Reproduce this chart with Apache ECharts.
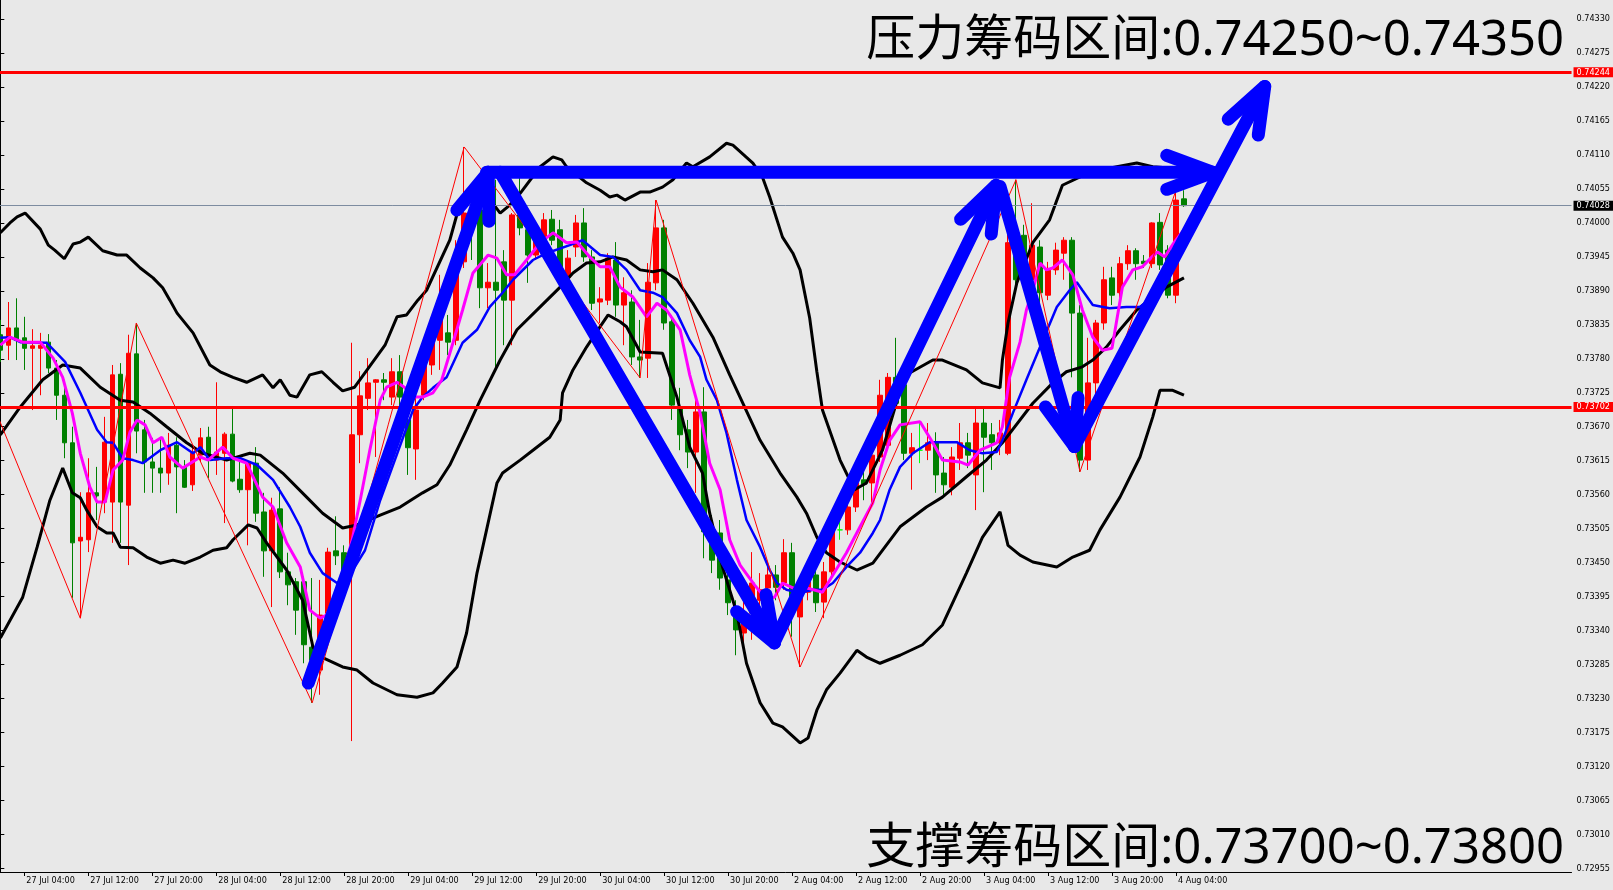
<!DOCTYPE html>
<html><head><meta charset="utf-8">
<script src="https://cdn.jsdelivr.net/npm/echarts@6/dist/echarts.min.js"></script>
<style>html,body{margin:0;padding:0;background:#e8e8e8;} #c{width:1613px;height:890px;}</style>
</head><body><div id="c"></div>
<script>
// ---- bar data (H1 bars, index 0 = 27 Jul 01:00, weekend skipped) ----
const opens = [
0.73819,0.73802,0.73830,0.73814,0.73797,0.73797,0.73807,0.73765,0.73721,0.73644,
0.73485,0.73487,0.73563,0.73548,0.73548,0.73755,0.73543,0.73788,0.73665,0.73613,
0.73603,0.73595,0.73640,0.73605,0.73576,0.73624,0.73653,0.73616,0.73627,0.73658,
0.73585,0.73568,0.73611,0.73532,0.73469,0.73537,0.73435,0.73419,0.73419,0.73313,
0.73276,0.73368,0.73469,0.73466,0.73466,0.73657,0.73716,0.73742,0.73746,0.73718,
0.73759,0.73681,0.73634,0.73721,0.73770,0.73810,0.73822,0.73810,0.73937,0.74016,
0.74021,0.73895,0.73904,0.73937,0.73875,0.74013,0.73989,0.73948,0.73961,0.74006,
0.73989,0.73912,0.73961,0.74000,0.73945,0.73872,0.73875,0.73940,0.73867,0.73872,
0.73783,0.73781,0.73903,0.73992,0.73840,0.73702,0.73665,0.73629,0.73694,0.73503,
0.73498,0.73422,0.73373,0.73336,0.73368,0.73389,0.73409,0.73430,0.73417,0.73466,
0.73362,0.73402,0.73430,0.73386,0.73435,0.73503,0.73503,0.73540,0.73584,0.73579,
0.73621,0.73640,0.73750,0.73738,0.73627,0.73632,0.73632,0.73644,0.73595,0.73572,
0.73619,0.73644,0.73592,0.73676,0.73657,0.73644,0.73627,0.73977,0.73980,0.73908,
0.73961,0.73883,0.73924,0.73951,0.73972,0.73854,0.73616,0.73741,0.73838,0.73911,
0.73887,0.73934,0.73955,0.73938,0.73934,0.74001,0.73956,0.73883,0.74039];
const closes = [
0.73794,0.73830,0.73810,0.73797,0.73801,0.73802,0.73765,0.73721,0.73644,0.73482,
0.73491,0.73563,0.73558,0.73645,0.73754,0.73548,0.73789,0.73663,0.73613,0.73603,
0.73595,0.73640,0.73605,0.73572,0.73627,0.73652,0.73619,0.73629,0.73658,0.73582,
0.73568,0.73611,0.73530,0.73469,0.73535,0.73435,0.73414,0.73373,0.73317,0.73292,
0.73365,0.73467,0.73461,0.73422,0.73657,0.73720,0.73741,0.73746,0.73742,0.73759,
0.73718,0.73636,0.73697,0.73783,0.73819,0.73875,0.73807,0.73945,0.74016,0.73997,
0.73895,0.73904,0.73891,0.73875,0.74013,0.73992,0.73948,0.73977,0.74005,0.73972,
0.73924,0.73943,0.74000,0.73945,0.73870,0.73877,0.73943,0.73867,0.73887,0.73783,
0.73778,0.73904,0.73992,0.73838,0.73705,0.73657,0.73629,0.73694,0.73500,0.73454,
0.73425,0.73385,0.73341,0.73370,0.73417,0.73406,0.73430,0.73410,0.73466,0.73368,
0.73409,0.73419,0.73385,0.73435,0.73503,0.73503,0.73540,0.73579,0.73577,0.73624,
0.73721,0.73750,0.73708,0.73627,0.73636,0.73632,0.73644,0.73592,0.73576,0.73621,
0.73644,0.73624,0.73676,0.73653,0.73644,0.73660,0.73968,0.73908,0.73937,0.73964,
0.73887,0.73924,0.73956,0.73972,0.73854,0.73616,0.73741,0.73838,0.73908,0.73883,
0.73934,0.73955,0.73934,0.73934,0.74000,0.73932,0.73883,0.74037,0.74028];
const lows = [
0.73775,0.73778,0.73778,0.73762,0.73697,0.73721,0.73757,0.73681,0.73619,0.73393,
0.73360,0.73467,0.73519,0.73530,0.73482,0.73482,0.73446,0.73627,0.73563,0.73563,
0.73563,0.73576,0.73530,0.73571,0.73566,0.73613,0.73587,0.73592,0.73514,0.73580,
0.73563,0.73478,0.73516,0.73427,0.73378,0.73425,0.73381,0.73333,0.73287,0.73223,
0.73236,0.73357,0.73446,0.73406,0.73161,0.73611,0.73697,0.73621,0.73713,0.73705,
0.73697,0.73592,0.73584,0.73713,0.73754,0.73762,0.73786,0.73802,0.73927,0.73940,
0.73862,0.73862,0.73762,0.73802,0.73802,0.73980,0.73903,0.73940,0.73956,0.73964,
0.73916,0.73903,0.73945,0.73937,0.73859,0.73838,0.73867,0.73848,0.73802,0.73770,
0.73749,0.73749,0.73891,0.73827,0.73681,0.73632,0.73603,0.73563,0.73457,0.73433,
0.73406,0.73365,0.73300,0.73321,0.73325,0.73328,0.73389,0.73389,0.73406,0.73330,
0.73281,0.73389,0.73370,0.73360,0.73425,0.73487,0.73495,0.73532,0.73551,0.73547,
0.73613,0.73632,0.73697,0.73616,0.73568,0.73611,0.73616,0.73563,0.73555,0.73559,
0.73600,0.73603,0.73535,0.73564,0.73600,0.73624,0.73624,0.73891,0.73916,0.73883,
0.73859,0.73875,0.73916,0.73908,0.73750,0.73597,0.73600,0.73721,0.73827,0.73867,
0.73875,0.73924,0.73908,0.73927,0.73927,0.73924,0.73878,0.73870,0.74026];
const highs = [
0.73843,0.73872,0.73878,0.73848,0.73828,0.73822,0.73820,0.73778,0.73746,0.73670,
0.73564,0.73619,0.73605,0.73686,0.73770,0.73773,0.73819,0.73838,0.73681,0.73652,
0.73653,0.73660,0.73653,0.73616,0.73637,0.73668,0.73670,0.73742,0.73661,0.73700,
0.73616,0.73616,0.73637,0.73563,0.73555,0.73572,0.73466,0.73425,0.73427,0.73425,
0.73422,0.73474,0.73525,0.73478,0.73806,0.73760,0.73781,0.73747,0.73757,0.73781,
0.73786,0.73718,0.73729,0.73810,0.73835,0.73916,0.73851,0.73972,0.74123,0.74053,
0.74040,0.73935,0.74070,0.73956,0.74016,0.74091,0.74000,0.73993,0.74016,0.74021,
0.74005,0.73956,0.74013,0.74024,0.73956,0.73896,0.73951,0.73969,0.73912,0.73891,
0.73843,0.73935,0.74037,0.74005,0.73851,0.73733,0.73681,0.73713,0.73734,0.73527,
0.73519,0.73438,0.73389,0.73389,0.73467,0.73433,0.73451,0.73446,0.73488,0.73482,
0.73417,0.73435,0.73449,0.73451,0.73516,0.73519,0.73551,0.73587,0.73600,0.73648,
0.73746,0.73757,0.73814,0.73749,0.73660,0.73676,0.73676,0.73661,0.73621,0.73637,
0.73676,0.73660,0.73700,0.73700,0.73676,0.73681,0.74045,0.74070,0.73997,0.74032,
0.73972,0.73937,0.73968,0.73977,0.73977,0.73867,0.73814,0.73843,0.73929,0.73929,
0.73945,0.73964,0.73959,0.73948,0.74001,0.74016,0.73964,0.74053,0.74053];
const dojiBars = [105, 115];

// ---- x axis tick labels (bar index -> label) ----
const tickIdx = [3,11,19,27,35,43,51,59,67,75,83,91,99,107,115,123,131,139,147];
const tickLabels = ['27 Jul 04:00','27 Jul 12:00','27 Jul 20:00','28 Jul 04:00','28 Jul 12:00','28 Jul 20:00',
 '29 Jul 04:00','29 Jul 12:00','29 Jul 20:00','30 Jul 04:00','30 Jul 12:00','30 Jul 20:00',
 '2 Aug 04:00','2 Aug 12:00','2 Aug 20:00','3 Aug 04:00','3 Aug 12:00','3 Aug 20:00','4 Aug 04:00'];
const yTicks = [0.72955,0.73010,0.73065,0.73120,0.73175,0.73230,0.73285,0.73340,0.73395,0.73450,0.73505,0.73560,
 0.73615,0.73670,0.73725,0.73780,0.73835,0.73890,0.73945,0.74000,0.74055,0.74110,0.74165,0.74220,0.74275,0.74330];

// ---- indicator lines [bar index, price] ----
const bbUpper = [[0,0.73984],[1.2,0.74000],[2.1,0.74010],[3.1,0.74016],[5,0.73990],[6,0.73964],[6.8,0.73956],[8,0.73942],[9.1,0.73966],[10,0.73969],[11,0.73977],[12.8,0.73955],[14.6,0.73948],[15.8,0.73948],[17.5,0.73927],[19.1,0.73911],[20.3,0.73895],[21.2,0.73875],[22.1,0.73854],[24.1,0.73822],[26.2,0.73770],[27.5,0.73759],[29.1,0.73750],[30.8,0.73742],[32.8,0.73754],[34.1,0.73733],[35,0.73746],[36.2,0.73721],[37.1,0.73718],[38.7,0.73754],[40.2,0.73759],[41.6,0.73742],[42.8,0.73728],[44.3,0.73734],[46.2,0.73768],[48.1,0.73802],[49.6,0.73848],[50.8,0.73851],[52.2,0.73875],[53.3,0.73891],[56.2,0.73972],[57.7,0.74042],[59.1,0.74057],[60.8,0.74045],[62.5,0.74016],[63.7,0.74029],[65,0.74048],[67.5,0.74091],[69.1,0.74107],[70.2,0.74102],[70.8,0.74091],[73.3,0.74065],[75,0.74053],[76.2,0.74042],[77.1,0.74045],[78.1,0.74037],[80,0.74050],[81.2,0.74050],[82.8,0.74058],[84.1,0.74070],[85.8,0.74097],[86.6,0.74091],[88.7,0.74107],[90.8,0.74129],[91.6,0.74126],[94.1,0.74097],[95.3,0.74074],[96.2,0.74042],[97.8,0.73977],[99.1,0.73951],[100,0.73924],[101.2,0.73846],[102.1,0.73759],[102.8,0.73697],[105,0.73616],[106.8,0.73568],[108.3,0.73579],[110.3,0.73632],[112.5,0.73729],[113.7,0.73757],[116.6,0.73778],[117.8,0.73778],[120.8,0.73762],[122.8,0.73741],[125,0.73733],[125.3,0.73778],[126,0.73838],[127.1,0.73903],[129.1,0.73968],[131.2,0.74005],[132.8,0.74061],[136.2,0.74082],[139.6,0.74091],[142.1,0.74097],[144.1,0.74091],[146.2,0.74089],[148,0.74086]];
const bbMiddle = [[0,0.73657],[2.5,0.73702],[5.3,0.73746],[7.8,0.73770],[10,0.73765],[12.5,0.73734],[15,0.73713],[16.6,0.73710],[18.7,0.73692],[20.8,0.73670],[23.3,0.73644],[25.3,0.73627],[28.3,0.73616],[31.2,0.73627],[32.5,0.73624],[35.3,0.73595],[38.3,0.73556],[40.3,0.73530],[42.8,0.73506],[44.6,0.73511],[47.5,0.73527],[50,0.73540],[52.8,0.73563],[54.6,0.73576],[56.2,0.73608],[58.3,0.73665],[60,0.73713],[62.5,0.73778],[64.6,0.73827],[67.5,0.73864],[70,0.73896],[71.6,0.73919],[73.3,0.73935],[75,0.73937],[76.6,0.73945],[78.3,0.73940],[80,0.73924],[81.6,0.73921],[82.8,0.73924],[84.6,0.73908],[86.6,0.73870],[89.1,0.73815],[91.2,0.73754],[95,0.73648],[97.5,0.73595],[99.6,0.73556],[100.8,0.73530],[102.1,0.73491],[103.3,0.73466],[105,0.73451],[107.1,0.73438],[109.1,0.73449],[112.5,0.73508],[115.8,0.73540],[117.8,0.73556],[120.8,0.73589],[123.3,0.73616],[125.3,0.73644],[129.1,0.73708],[131.6,0.73741],[133.3,0.73759],[135.3,0.73767],[136.6,0.73778],[138.3,0.73799],[140,0.73827],[142.1,0.73859],[145.8,0.73896],[148,0.73911]];
const bbLower = [[0,0.73328],[2.8,0.73394],[4.6,0.73475],[6.2,0.73551],[7.8,0.73603],[9,0.73563],[10,0.73555],[10.8,0.73535],[12.1,0.73508],[13.3,0.73498],[14.1,0.73498],[15,0.73475],[16.6,0.73474],[18.3,0.73459],[20,0.73449],[21.6,0.73454],[23.1,0.73449],[25,0.73459],[26.6,0.73470],[28.3,0.73474],[29.1,0.73487],[31,0.73511],[32.1,0.73506],[33.3,0.73482],[35.8,0.73438],[37.8,0.73389],[39.1,0.73313],[40.3,0.73296],[42.8,0.73281],[44.6,0.73276],[46.6,0.73255],[49.6,0.73236],[52.1,0.73232],[54.1,0.73239],[55.3,0.73255],[57.1,0.73281],[58.3,0.73336],[59.6,0.73433],[60.8,0.73503],[62.1,0.73579],[62.8,0.73595],[65,0.73616],[66.6,0.73632],[68.7,0.73653],[70,0.73681],[70.3,0.73725],[71.6,0.73762],[73.3,0.73799],[75,0.73832],[76,0.73851],[77.5,0.73840],[78.3,0.73832],[80,0.73791],[82.8,0.73789],[84.6,0.73718],[86.2,0.73637],[87.8,0.73595],[88.7,0.73530],[90.3,0.73443],[92.1,0.73368],[93.3,0.73287],[95,0.73223],[96.6,0.73190],[97.8,0.73184],[100,0.73158],[101,0.73166],[102.1,0.73211],[103.3,0.73244],[105,0.73271],[107.1,0.73308],[108.3,0.73297],[110,0.73287],[112.5,0.73300],[115.3,0.73317],[117.8,0.73349],[120.8,0.73433],[122.8,0.73491],[125,0.73532],[126,0.73478],[127.5,0.73462],[129.1,0.73451],[132.1,0.73443],[134.1,0.73459],[136.2,0.73470],[137.5,0.73503],[140,0.73556],[142.5,0.73621],[144.1,0.73686],[145,0.73729],[146.6,0.73729],[148,0.73721]];
const blueMA = [[0,0.73814],[1.2,0.73815],[2.5,0.73807],[5.8,0.73806],[8.1,0.73775],[10,0.73725],[12.1,0.73665],[13.3,0.73645],[14.1,0.73644],[15.3,0.73619],[16.6,0.73616],[17.8,0.73611],[20,0.73632],[22.1,0.73645],[24.1,0.73627],[25,0.73637],[26.2,0.73616],[28.3,0.73619],[30,0.73619],[32.1,0.73608],[34.1,0.73584],[36.2,0.73540],[37.5,0.73508],[38.7,0.73466],[40.3,0.73433],[42.1,0.73417],[43.7,0.73430],[45.6,0.73470],[47.5,0.73551],[50,0.73640],[51.6,0.73697],[52.8,0.73718],[54.1,0.73733],[55.8,0.73750],[57.8,0.73806],[59.6,0.73827],[61.2,0.73864],[62.8,0.73887],[64.1,0.73908],[66.6,0.73940],[68.3,0.73951],[71.2,0.73964],[72.8,0.73972],[75,0.73948],[76.6,0.73945],[78.3,0.73924],[80,0.73891],[81.6,0.73887],[82.8,0.73880],[84.6,0.73854],[86.2,0.73810],[87.5,0.73783],[88.3,0.73746],[89.6,0.73713],[90.8,0.73660],[92.1,0.73584],[93.3,0.73519],[95,0.73475],[96.2,0.73438],[97.1,0.73417],[98.3,0.73406],[100,0.73401],[101.6,0.73406],[102.8,0.73406],[104.1,0.73417],[105.8,0.73443],[107.5,0.73466],[109.1,0.73498],[110,0.73519],[111.2,0.73568],[112.5,0.73605],[114.1,0.73627],[116.2,0.73645],[119.6,0.73645],[121.2,0.73632],[122.8,0.73627],[124.6,0.73629],[125.3,0.73648],[126.6,0.73692],[128.3,0.73746],[130,0.73799],[132.1,0.73864],[133.7,0.73891],[134.6,0.73904],[135.3,0.73891],[136.6,0.73867],[138.7,0.73862],[140.8,0.73864],[142.5,0.73864],[144.3,0.73883],[146.2,0.73932],[148,0.73972]];
const magentaMA = [[0,0.73802],[1.2,0.73815],[2.8,0.73807],[5,0.73807],[6.6,0.73781],[7.8,0.73750],[9,0.73692],[10,0.73627],[11.2,0.73572],[12.1,0.73548],[13.1,0.73548],[14.1,0.73600],[15.3,0.73616],[16.2,0.73661],[17.1,0.73681],[18.1,0.73673],[19.1,0.73644],[20.2,0.73653],[21.2,0.73621],[22.8,0.73603],[25,0.73621],[26,0.73616],[27.8,0.73637],[29.1,0.73619],[30.8,0.73611],[32.8,0.73556],[34.1,0.73540],[35.8,0.73482],[37.5,0.73443],[38.7,0.73373],[40,0.73360],[40.8,0.73365],[42.5,0.73414],[44,0.73487],[45,0.73551],[46.2,0.73632],[47.5,0.73713],[48.3,0.73734],[49.6,0.73742],[50.6,0.73733],[51.8,0.73718],[52.8,0.73718],[54.1,0.73725],[55.2,0.73746],[56.6,0.73806],[57.8,0.73859],[59.1,0.73919],[61,0.73948],[62.1,0.73943],[63.3,0.73916],[64.3,0.73916],[65.8,0.73940],[67.5,0.73968],[69.1,0.73984],[70.8,0.73968],[72.1,0.73969],[73.7,0.73945],[75,0.73929],[76.2,0.73929],[77.5,0.73896],[79.1,0.73880],[80.8,0.73848],[82.1,0.73870],[83.3,0.73859],[85,0.73827],[86.2,0.73754],[87.5,0.73692],[88.7,0.73611],[90,0.73568],[91.2,0.73487],[92.5,0.73446],[94.3,0.73414],[95.6,0.73393],[96.8,0.73394],[97.8,0.73417],[99.1,0.73409],[100.8,0.73409],[102.8,0.73402],[104.1,0.73430],[105.8,0.73466],[107.5,0.73508],[109.1,0.73547],[110,0.73600],[111.2,0.73648],[112.5,0.73673],[115,0.73678],[116.6,0.73644],[117.8,0.73616],[120,0.73613],[121,0.73608],[122.5,0.73632],[124.6,0.73644],[125.3,0.73670],[126.2,0.73750],[127.5,0.73807],[128.3,0.73859],[129.1,0.73891],[130,0.73935],[130.8,0.73924],[131.6,0.73927],[132.8,0.73940],[134.1,0.73916],[135.3,0.73859],[136.6,0.73815],[137.8,0.73794],[139,0.73797],[139.6,0.73843],[140.3,0.73896],[141.6,0.73924],[142.8,0.73929],[144,0.73945],[144.7,0.73953],[145.6,0.73945],[146.8,0.73969],[148,0.73989]];
const zigzag = [[-3,0.73772],[10,0.73360],[17,0.73838],[39,0.73223],[58,0.74123],[80,0.73749],[82,0.74037],[100,0.73281],[127,0.74070],[135,0.73597],[147,0.74053]];

// ---- hand-drawn arrows: [fromIdx, fromPrice, toIdx, toPrice] ----
const arrows = [
 [38.5,0.73255,61.0,0.74082],
 [62.5,0.74082,96.8,0.73320],
 [60.8,0.74082,151.6,0.74082],
 [96.8,0.73322,124.5,0.74061],
 [125.0,0.74059,134.3,0.73638],
 [134.3,0.73638,158.1,0.74221]
];
// ---- price levels ----
const resistanceLevel = 0.74244;
const supportLevel = 0.73702;
const bidPrice = 0.74028;
const topText = '压力筹码区间:0.74250~0.74350';
const bottomText = '支撑筹码区间:0.73700~0.73800';

const axisFont = 'DejaVu Sans Condensed, Liberation Sans Narrow, DejaVu Sans, sans-serif';
const candleData = opens.map((o, i) => {
  const item = { value: [i, o, closes[i], lows[i], highs[i]] };
  if (dojiBars.indexOf(i) >= 0) item.itemStyle = { color:'#00ff00', color0:'#00ff00', borderColor:'#00ff00', borderColor0:'#00ff00' };
  return item;
});
const lineS = (name, data, color, width, z) => ({
  name, type:'line', data, symbol:'none', showSymbol:false, z, silent:true,
  lineStyle:{ color, width }, animation:false
});
const levelLabel = (bg) => ({
  show:true, position:'end', distance:2, color:'#ffffff', backgroundColor:bg,
  padding:[1,3,0,3], fontSize:9, fontFamily:axisFont, formatter:(p)=>Number(p.value).toFixed(5)
});

const chart = echarts.init(document.getElementById('c'), null, {renderer:'canvas'});
chart.setOption({
  animation:false,
  backgroundColor:'#e8e8e8',
  title:[
    {text: topText, right:49, top:17, padding:0, textStyle:{fontSize:49, fontWeight:'normal', color:'#000', fontFamily:'Noto Sans, Noto Sans CJK SC, sans-serif'}},
    {text: bottomText, right:49, top:825, padding:0, textStyle:{fontSize:49, fontWeight:'normal', color:'#000', fontFamily:'Noto Sans, Noto Sans CJK SC, sans-serif'}}
  ],
  grid:{left:0, right:41, top:0, bottom:18, containLabel:false},
  xAxis:{
    type:'value', min:-0.04, max:196.46,
    axisLine:{show:true, lineStyle:{color:'#000', width:1}},
    axisTick:{show:true, customValues:tickIdx, length:4, lineStyle:{color:'#000'}},
    axisLabel:{show:true, customValues:tickIdx, align:'left', margin:4, padding:[0,0,0,2],
      color:'#000', fontSize:9, fontFamily:axisFont,
      formatter:(v)=>{ const k = tickIdx.indexOf(Math.round(v)); return k>=0 ? tickLabels[k] : ''; }},
    splitLine:{show:false}
  },
  yAxis:{
    type:'value', position:'right', min:0.72949, max:0.74361,
    axisLine:{show:true, lineStyle:{color:'#000', width:1}},
    axisTick:{show:true, customValues:yTicks, length:4, lineStyle:{color:'#000'}},
    axisLabel:{show:true, customValues:yTicks, margin:5, color:'#000', fontSize:9, fontFamily:axisFont,
      formatter:(v)=>Number(v).toFixed(5)},
    splitLine:{show:false}
  },
  series:[
    {
      type:'candlestick', data:candleData, encode:{x:0, y:[1,2,3,4]}, barWidth:5, z:2, silent:true,
      itemStyle:{color:'#ff0000', color0:'#008000', borderColor:'#ff0000', borderColor0:'#008000', borderWidth:1}
    },
    lineS('bbUpper', bbUpper, '#000000', 3, 3),
    lineS('bbMiddle', bbMiddle, '#000000', 3, 3),
    lineS('bbLower', bbLower, '#000000', 3, 3),
    lineS('ma1', blueMA, '#0000ff', 2.5, 4),
    lineS('ma2', magentaMA, '#ff00ff', 3, 4),
    Object.assign(lineS('zigzag', zigzag, '#ff0000', 1, 5), {
      markLine:{
        silent:true, symbol:['none','none'], animation:false, precision:5,
        data:[
          {yAxis:bidPrice, lineStyle:{color:'#7d8ca0', width:1, type:'solid'}, label:levelLabel('#000000')},
          {yAxis:resistanceLevel, lineStyle:{color:'#ff0000', width:3, type:'solid'}, label:levelLabel('#ff0000')},
          {yAxis:supportLevel, lineStyle:{color:'#ff0000', width:3, type:'solid'}, label:levelLabel('#ff0000')}
        ]
      }
    }),
    {
      type:'custom', data:arrows, encode:{x:[0,2], y:[1,3]}, z:10, silent:true, clip:false,
      renderItem:(params, api)=>{
        const a = api.coord([api.value(0), api.value(1)]);
        const b = api.coord([api.value(2), api.value(3)]);
        const dx = b[0]-a[0], dy = b[1]-a[1];
        const len = Math.hypot(dx, dy) || 1;
        const ux = dx/len, uy = dy/len;
        const back = 46, side = 17;
        const w1 = [b[0]-ux*back - uy*side, b[1]-uy*back + ux*side];
        const w2 = [b[0]-ux*back + uy*side, b[1]-uy*back - ux*side];
        const st = {stroke:'#0000ff', lineWidth:13, lineCap:'round', lineJoin:'round', fill:null};
        return {type:'group', children:[
          {type:'polyline', shape:{points:[a,b]}, style:st},
          {type:'polyline', shape:{points:[w1,b,w2]}, style:st}
        ]};
      }
    }
  ]
});
</script>
</body></html>
